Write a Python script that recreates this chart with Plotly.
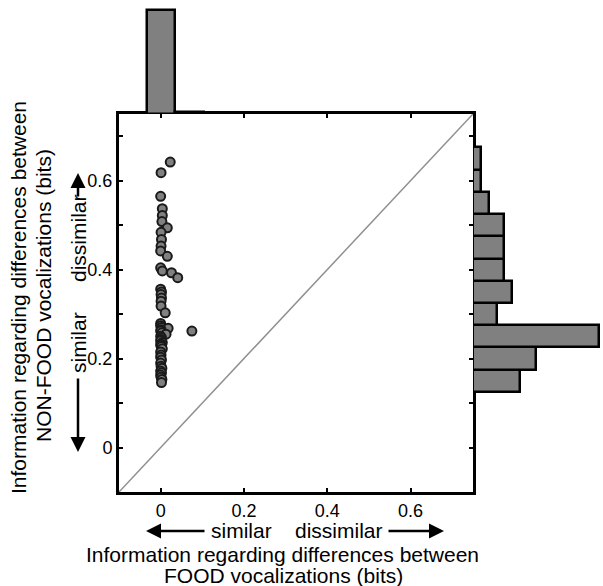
import plotly.graph_objects as go

# ---- data ----
food_bits = [0.023, 0.001, 0.0, 0.004,
             0.004, 0.003, 0.016, 0.001,
             0.002, 0.001, 0.0, 0.016,
             0.0, 0.004, 0.026, 0.041,
             0.0, 0.002, 0.001, 0.002, 0.001,
             0.001, 0.011, 0.0,
             0.0, 0.002, 0.018, 0.001, 0.075, 0.0, 0.003, 0.013, 0.0, 0.002, 0.001, 0.0, 0.004, 0.001, 0.0, 0.002,
             0.004, 0.0, 0.001, 0.0, 0.002, 0.0, 0.001, 0.003,
             0.0, 0.002, 0.0, 0.001, 0.003, 0.002]
nonfood_bits = [0.642, 0.618, 0.565, 0.537,
                0.522, 0.508, 0.494, 0.484,
                0.468, 0.453, 0.442, 0.430,
                0.404, 0.397, 0.393, 0.382,
                0.356, 0.350, 0.344, 0.336, 0.329,
                0.318, 0.303, 0.279,
                0.274, 0.270, 0.268, 0.265, 0.262, 0.262, 0.258, 0.255, 0.250, 0.247, 0.243, 0.240, 0.236, 0.233, 0.230, 0.227,
                0.222, 0.215, 0.208, 0.203, 0.197, 0.190, 0.183, 0.178,
                0.172, 0.168, 0.163, 0.158, 0.153, 0.146]

top_bin_centers = [0.001, 0.069]
top_counts = [53, 1]
right_bin_centers = [0.15, 0.20, 0.25, 0.30, 0.35, 0.40, 0.45, 0.50, 0.55, 0.60, 0.65]
right_counts = [6, 8, 16, 3, 5, 4, 4, 4, 2, 1, 1]

x_tick_vals = [0, 0.2, 0.4, 0.6]
x_tick_text = ["0", "0.2", "0.4", "0.6"]
y_tick_vals = [0, 0.1, 0.2, 0.3, 0.4, 0.5, 0.6, 0.7]
y_tick_text = ["0", "", "0.2", "", "0.4", "", "0.6", ""]
diag = [-0.1, 0.75]

# ---- layout geometry ----
W, H = 603, 586
def px(x):
    return x / W
def py(y):
    return 1 - y / H

XL, XR, YT, YB = 119, 473, 114, 492
FONT = "Liberation Sans, Arial, sans-serif"
GRAY = "#808080"
TFS = 21

fig = go.Figure()

fig.add_trace(go.Scatter(x=diag, y=diag, mode="lines",
                         line=dict(color="#8f8f8f", width=1.5),
                         hoverinfo="skip", showlegend=False))
fig.add_trace(go.Scatter(x=food_bits, y=nonfood_bits, mode="markers",
                         marker=dict(size=9, color=GRAY,
                                     line=dict(color="#1a1a1a", width=2)),
                         showlegend=False))
fig.add_trace(go.Bar(x=top_bin_centers, y=top_counts, width=0.068,
                     marker=dict(color=GRAY, line=dict(color="black", width=2.5)),
                     xaxis="x2", yaxis="y2", showlegend=False))
fig.add_trace(go.Bar(y=right_bin_centers, x=right_counts, width=0.05, orientation="h",
                     marker=dict(color=GRAY, line=dict(color="black", width=2.5)),
                     xaxis="x3", yaxis="y3", showlegend=False))

axis_common = dict(showgrid=False, zeroline=False)
fig.update_layout(
    width=W, height=H,
    margin=dict(l=0, r=0, t=0, b=0),
    paper_bgcolor="white", plot_bgcolor="white",
    font=dict(family=FONT, size=18, color="black"),
    bargap=0,
    xaxis=dict(domain=[px(XL), px(XR)], range=[-0.1, 0.75],
               tickvals=x_tick_vals, ticktext=x_tick_text,
               ticks="inside", ticklen=4, tickwidth=2, tickcolor="black",
               showline=True, linewidth=3, linecolor="black", mirror="ticks",
               **axis_common),
    yaxis=dict(domain=[py(YB), py(YT)], range=[-0.1, 0.75],
               tickvals=y_tick_vals, ticktext=y_tick_text,
               ticks="inside", ticklen=4, tickwidth=2, tickcolor="black",
               showline=True, linewidth=3, linecolor="black", mirror="ticks",
               **axis_common),
    xaxis2=dict(domain=[px(XL), px(XR)], range=[-0.1, 0.75], anchor="y2",
                visible=False, **axis_common),
    yaxis2=dict(domain=[py(YT), 1.0], range=[0, 58.1], anchor="x2",
                visible=False, **axis_common),
    xaxis3=dict(domain=[px(XR), 1.0], range=[0, 16.56], anchor="y3",
                visible=False, **axis_common),
    yaxis3=dict(domain=[py(YB), py(YT)], range=[-0.1, 0.75], anchor="x3",
                visible=False, **axis_common),
)

def label(x, y, text, angle=0):
    return dict(x=px(x), y=py(y), xref="paper", yref="paper", text=text,
                xanchor="center", yanchor="middle", textangle=angle,
                showarrow=False, font=dict(size=TFS))

def arrow(x, y, ax, ay):
    return dict(x=px(x), y=py(y), xref="paper", yref="paper", text="",
                showarrow=True, ax=ax, ay=ay, arrowhead=2, arrowsize=1.2,
                arrowwidth=2.5, arrowcolor="black")

ann = [
    # bottom
    label(241, 530, "similar"),
    label(339, 530, "dissimilar"),
    arrow(146, 531, 60, 0),
    arrow(444, 531, -57, 0),
    label(282, 554, "Information regarding differences between"),
    label(283, 575, "FOOD vocalizations (bits)"),
    # left
    label(78, 238, "dissimilar", -90),
    label(78, 343, "similar", -90),
    arrow(78, 173, 0, 25),
    arrow(78, 452, 0, -75),
    label(18, 298, "Information regarding differences between", -90),
    label(43, 296, "NON-FOOD vocalizations (bits)", -90),
]
fig.update_layout(annotations=ann)

fig.write_html("out.html", config={"displayModeBar": False},
               post_script="document.body.style.margin='0px';")
